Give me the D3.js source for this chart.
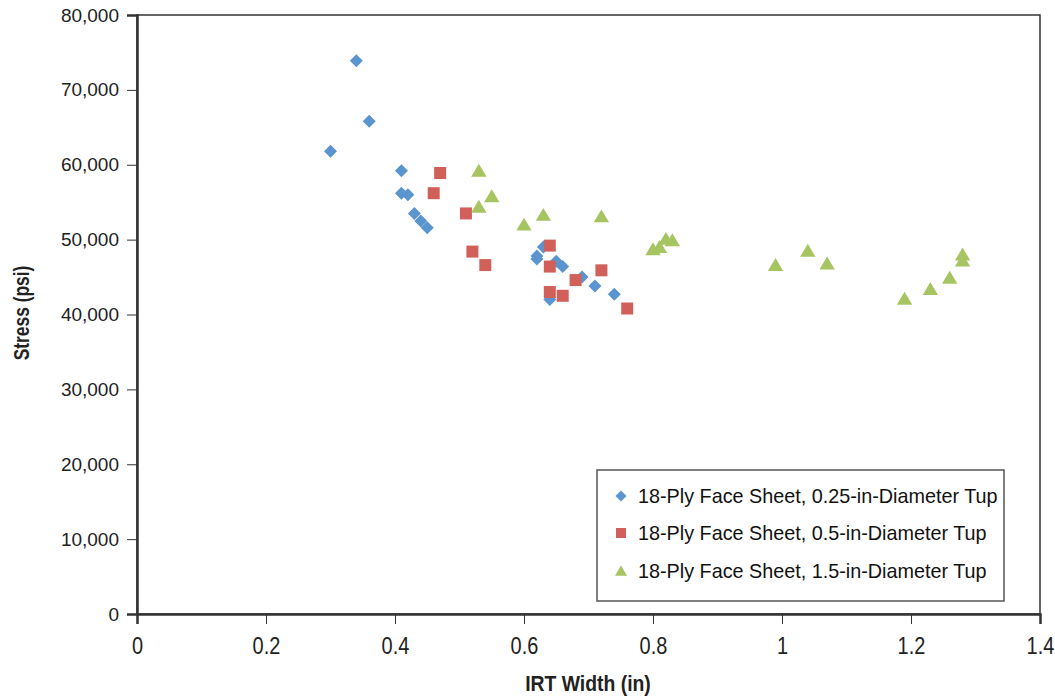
<!DOCTYPE html>
<html><head><meta charset="utf-8">
<script src="https://cdn.jsdelivr.net/npm/d3@7"></script>
<style>body{margin:0;background:#fff}svg{display:block}</style>
</head><body>
<script>
const seriesNames = ["18-Ply Face Sheet, 0.25-in-Diameter Tup","18-Ply Face Sheet, 0.5-in-Diameter Tup","18-Ply Face Sheet, 1.5-in-Diameter Tup"];
const s1x = [0.34,0.36,0.30,0.41,0.41,0.42,0.43,0.44,0.45,0.63,0.62,0.62,0.65,0.66,0.69,0.71,0.74,0.64];
const s1y = [73900,65800,61800,59200,56200,56000,53500,52500,51600,49000,47800,47400,47100,46400,45000,43800,42700,42000];
const s2x = [0.47,0.46,0.51,0.52,0.54,0.64,0.64,0.68,0.72,0.64,0.66,0.76];
const s2y = [58900,56200,53500,48400,46600,49200,46400,44600,45900,43000,42500,40800];
const s3x = [0.53,0.55,0.53,0.60,0.63,0.72,0.80,0.81,0.82,0.83,0.99,1.04,1.07,1.19,1.23,1.26,1.28,1.28];
const s3y = [59200,55800,54400,52000,53300,53100,48700,49000,50100,49900,46600,48500,46800,42100,43400,44900,48000,47200];
const xTicks = [0,0.2,0.4,0.6,0.8,1,1.2,1.4];
const yTicks = [0,10000,20000,30000,40000,50000,60000,70000,80000];
const colors = ["#5a95d0","#d2605a","#a7c463"];

const W=1055,H=700;
const m={l:137,r:1040,t:15,b:614};
const svg=d3.select("body").append("svg").attr("width",W).attr("height",H);
const x=d3.scaleLinear().domain([0,1.4]).range([m.l,m.r]);
const y=d3.scaleLinear().domain([0,80000]).range([m.b,m.t]);

// frame
svg.append("rect").attr("x",m.l).attr("y",m.t).attr("width",m.r-m.l).attr("height",m.b-m.t)
  .attr("fill","none").attr("stroke","#333").attr("stroke-width",1.5);

const yAxis=svg.append("g").attr("transform",`translate(${m.l},0)`)
  .call(d3.axisLeft(y).tickValues(yTicks).tickSize(10).tickPadding(8).tickFormat(d3.format(",")));
yAxis.selectAll("text").attr("font-family","Liberation Sans, Arial, sans-serif").attr("font-size",19).attr("fill","#222");
yAxis.select(".domain").attr("stroke","#333").attr("stroke-width",2.5);
yAxis.selectAll(".tick line").attr("stroke","#333");

const xAxis=svg.append("g").attr("transform",`translate(0,${m.b})`)
  .call(d3.axisBottom(x).tickValues(xTicks).tickSize(10).tickPadding(13).tickFormat(d=>String(d)));
xAxis.selectAll("text").attr("font-family","Liberation Sans, Arial, sans-serif").attr("font-size",23.5).attr("fill","#222")
  .attr("transform","scale(0.85,1)").attr("x",0);
xAxis.select(".domain").attr("stroke","#333").attr("stroke-width",2.5);
xAxis.selectAll(".tick line").attr("stroke","#333");

// titles
svg.append("text").attr("transform","translate(588,691) scale(0.88,1)").attr("text-anchor","middle")
  .attr("font-family","Liberation Sans, Arial, sans-serif").attr("font-weight","bold").attr("font-size",22).attr("fill","#222")
  .text("IRT Width (in)");
svg.append("text").attr("transform","translate(29,313) rotate(-90) scale(0.79,1)").attr("text-anchor","middle")
  .attr("font-family","Liberation Sans, Arial, sans-serif").attr("font-weight","bold").attr("font-size",22).attr("fill","#222")
  .text("Stress (psi)");

function diamond(r){return `M0,${-r}L${r},0L0,${r}L${-r},0Z`;}
function square(r){return `M${-r},${-r}H${r}V${r}H${-r}Z`;}
function tri(r){return `M0,${-r}L${r*1.1},${r*0.85}L${-r*1.1},${r*0.85}Z`;}
const shapes=[()=>diamond(6.5),()=>square(6),()=>tri(7)];

const data=[[s1x,s1y],[s2x,s2y],[s3x,s3y]];
const plot=svg.append("g");
data.forEach((s,i)=>{
  const pts=s[0].map((v,j)=>({x:v,y:s[1][j]}));
  plot.selectAll(null).data(pts).enter().append("path")
    .attr("d",shapes[i]()).attr("transform",d=>`translate(${x(d.x)},${y(d.y)})`)
    .attr("fill",colors[i]);
});

// legend
const lg=svg.append("g");
lg.append("rect").attr("x",597).attr("y",470).attr("width",407).attr("height",131)
  .attr("fill","#fff").attr("stroke","#555").attr("stroke-width",1.5);
const ly=[496,533,571];
const lshapes=[()=>diamond(5.5),()=>square(5),()=>tri(5.5)];
seriesNames.forEach((n,i)=>{
  lg.append("path").attr("d",lshapes[i]()).attr("transform",`translate(621,${ly[i]})`).attr("fill",colors[i]);
  lg.append("text").attr("x",638).attr("y",ly[i]).attr("dy","0.36em")
    .attr("font-family","Liberation Sans, Arial, sans-serif").attr("font-size",19.8).attr("fill","#111").text(n);
});
</script>
</body></html>
